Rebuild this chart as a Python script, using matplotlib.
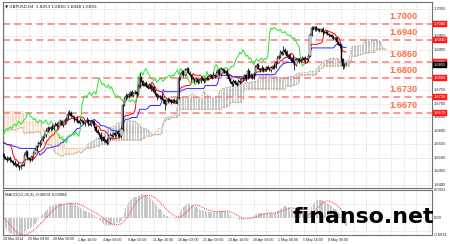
import numpy as np
import pandas as pd
import matplotlib
matplotlib.use("Agg")
import matplotlib.pyplot as plt
import matplotlib.transforms as mtransforms

# ---------------- data (prices in 1/10000, i.e. 6507 -> 1.6507) ----------------
# bars before the visible window (only feed the indicators)
pre_close = [
    6625, 6630, 6628, 6635, 6640, 6632, 6638, 6645, 6640, 6650,
    6655, 6660, 6652, 6785, 6660, 6650, 6645, 6640, 6635, 6630,
    6628, 6622, 6625, 6618, 6620, 6615, 6612, 6618, 6615, 6610,
    6612, 6608, 6615, 6610, 6605, 6600, 6608, 6612, 6700, 6710,
    6605, 6598, 6600, 6595, 6590, 6585, 6580, 6578, 6575, 6572,
    6570, 6568, 6565, 6570, 6578, 6585, 6590, 6595, 6592, 6598,
    6600, 6605, 6602, 6598, 6605, 6610, 6615, 6610, 6608, 6612,
    6610, 6605, 6610, 6618, 6612, 6598, 6555, 6518,
]
# visible H4 closes
close_pips = [
    6507, 6502, 6498, 6505, 6495, 6490, 6486, 6478, 6482, 6474,
    6470, 6476, 6480, 6515, 6528, 6505, 6500, 6497, 6510, 6522,
    6535, 6548, 6560, 6555, 6572, 6580, 6590, 6605, 6615, 6610,
    6620, 6612, 6625, 6630, 6622, 6635, 6640, 6628, 6636, 6645,
    6650, 6668, 6672, 6660, 6655, 6645, 6650, 6640, 6635, 6645,
    6640, 6632, 6638, 6645, 6630, 6628, 6640, 6635, 6620, 6605,
    6598, 6590, 6575, 6580, 6568, 6572, 6560, 6578, 6590, 6585,
    6595, 6588, 6600, 6592, 6585, 6610, 6700, 6725, 6735, 6728,
    6740, 6748, 6735, 6745, 6750, 6740, 6770, 6800, 6790, 6775,
    6780, 6770, 6765, 6775, 6760, 6768, 6750, 6740, 6728, 6735,
    6730, 6722, 6718, 6705, 6715, 6722, 6718, 6712, 6720, 6715,
    6710, 6725, 6800, 6815, 6822, 6810, 6828, 6835, 6820, 6812,
    6800, 6795, 6790, 6798, 6785, 6792, 6800, 6795, 6788, 6795,
    6800, 6806, 6810, 6802, 6812, 6808, 6820, 6830, 6815, 6835,
    6828, 6820, 6825, 6810, 6795, 6785, 6778, 6788, 6780, 6776,
    6790, 6785, 6795, 6800, 6810, 6798, 6825, 6805, 6812, 6802,
    6815, 6840, 6850, 6835, 6830, 6838, 6828, 6832, 6840, 6835,
    6830, 6838, 6845, 6842, 6860, 6875, 6880, 6895, 6890, 6905,
    6895, 6880, 6885, 6870, 6875, 6860, 6850, 6865, 6870, 6862,
    6868, 6875, 6865, 6872, 6870, 6880, 6960, 6985, 6980, 6988,
    6982, 6978, 6975, 6980, 6970, 6968, 6972, 6962, 6958, 6960,
    6952, 6945, 6950, 6935, 6925, 6918, 6870, 6845, 6850, 6855,
]
# wick lengths above / below the body, in units of 3 pips
wick_up = ("2131212312" "1213221213" "2123121321" "1312213212" "2332121312"
           "1213122131" "2131212121" "1212131232" "2131213621" "2312121312"
           "1212131212" "2121323222" "1312121312" "2121312132" "1213121312"
           "2121214121" "2322131213" "1213122325" "2312131212" "1213122331"
           "2121312121" "1212123121")
wick_dn = ("2131213121" "3212121312" "1213121312" "2121312132" "1212131212"
           "2131212321" "2132123121" "1213122121" "1212131212" "2121312131"
           "2138121312" "1212121312" "2131213121" "1212131212" "2131212312"
           "1212131212" "2121312121" "1213121212" "2121317212" "1213121212"
           "2121312121" "1213123421")

levels = [1.7000, 1.6940, 1.6860, 1.6800, 1.6730, 1.6670]
level_labels = ["1.7000", "1.6940", "1.6860", "1.6800", "1.6730", "1.6670"]
price_tick_values = [1.7055, 1.6955, 1.6905, 1.6755, 1.6705, 1.6655, 1.6605,
                     1.6555, 1.6505, 1.6455, 1.6405]
date_labels = ["20 Mar 2014", "25 Mar 08:00", "28 Mar 00:00", "1 Apr 16:00",
               "4 Apr 08:00", "9 Apr 00:00", "11 Apr 16:00", "16 Apr 08:00",
               "21 Apr 00:00", "23 Apr 16:00", "28 Apr 08:00", "1 May 00:00",
               "5 May 16:00", "8 May 08:00"]
date_bars = [0, 16, 32, 48, 64, 80, 96, 112, 128, 144, 160, 176, 192, 208]
bid_price = 1.6855
chart_title = "GBPUSD,H4  1.6853 1.6860 1.6848 1.6855"
macd_title = "MACD(12,26,9) -0.00031 0.00084"
macd_tick_values = [0.0052, 0.0, -0.0031]
macd_tick_labels = ["0.0052", "0.00", "-0.0031"]

# ---------------- build OHLC + indicators ----------------
pip = 0.0001
npre = len(pre_close)
c_vis = 1 + np.array(close_pips) * pip
c_pre = 1 + np.array(pre_close) * pip
o_vis = np.concatenate([[c_pre[-1]], c_vis[:-1]])
up = np.array([int(d) for d in wick_up]) * 3 * pip
dn = np.array([int(d) for d in wick_dn]) * 3 * pip
h_vis = np.maximum(o_vis, c_vis) + up
l_vis = np.minimum(o_vis, c_vis) - dn

C = pd.Series(np.concatenate([c_pre, c_vis]))
H = pd.Series(np.concatenate([c_pre, h_vis]))
L = pd.Series(np.concatenate([c_pre, l_vis]))
idx = np.arange(len(C)) - npre  # visible bar index

tenkan = (H.rolling(9, min_periods=1).max() + L.rolling(9, min_periods=1).min()) / 2
kijun = (H.rolling(26, min_periods=1).max() + L.rolling(26, min_periods=1).min()) / 2
span_a = (tenkan + kijun) / 2
span_b = (H.rolling(52, min_periods=1).max() + L.rolling(52, min_periods=1).min()) / 2

ema12 = C.ewm(span=12, adjust=False).mean()
ema26 = C.ewm(span=26, adjust=False).mean()
macd = ema12 - ema26
signal = macd.rolling(9, min_periods=1).mean()

# ---------------- figure ----------------
W, Hpx = 450, 244
fig = plt.figure(figsize=(W / 100, Hpx / 100), dpi=100, facecolor="white")

def fx(x):
    return x / W

def fy(y):
    return 1 - y / Hpx

left_px, right_px = 3, 432
ax = fig.add_axes([fx(left_px), fy(188), fx(right_px - left_px), fy(2) - fy(188)])
axm = fig.add_axes([fx(left_px), fy(235), fx(right_px - left_px), fy(190) - fy(235)])

bar_px = 1.5625
xmin = -0.5
xmax = xmin + (right_px - left_px) / bar_px
ymin, ymax = 1.6393, 1.70815
for a in (ax, axm):
    a.set_xlim(xmin, xmax)
    a.set_xticks([])
    a.set_yticks([])
    a.set_facecolor("white")
    for s in a.spines.values():
        s.set_color("#707070")
        s.set_linewidth(0.8)
ax.set_ylim(ymin, ymax)
axm.set_ylim(-0.0031, 0.0052)

grid_kw = dict(color="#c8c8c8", lw=0.5, ls=(0, (1, 1.5)), zorder=0)
for k in range(14):
    ax.axhline(1.7055 - k * 0.005, **grid_kw)
for xb in range(0, int(xmax) + 1, 8):
    ax.axvline(xb, **grid_kw)
    axm.axvline(xb, **grid_kw)
for v in [0.0052 - k * 0.0025 for k in range(4)]:
    axm.axhline(v, **grid_kw)

# ---- Ichimoku cloud ----
xs_cloud = idx + 26
A = span_a.values
B = span_b.values
vis = (xs_cloud >= -1) & (xs_cloud <= xmax)
xa, aa, bb = xs_cloud[vis], A[vis], B[vis]
bull = aa >= bb
ax.vlines(xa[bull], bb[bull], aa[bull], colors="#555555", lw=0.6,
          linestyles=(0, (0.5, 0.8)), zorder=1)
ax.vlines(xa[~bull], aa[~bull], bb[~bull], colors="#f0a060", lw=0.6,
          linestyles=(0, (0.5, 0.8)), zorder=1)
ax.plot(xa, aa, color="#8a8a8a", lw=0.6, ls=(0, (1, 1)), zorder=1)
ax.plot(xa, bb, color="#f0a060", lw=0.6, ls=(0, (1, 1)), zorder=1)

# ---- lines ----
vmask = idx >= -1
ax.plot(idx[vmask], tenkan.values[vmask], color="red", lw=0.7, zorder=3)
ax.plot(idx[vmask], kijun.values[vmask], color="#2a2aff", lw=0.7, zorder=3)
ch_x = idx - 26
cm = (ch_x >= -1)
ax.plot(ch_x[cm], C.values[cm], color="#33e633", lw=0.75, zorder=3)

# ---- candles ----
xv = np.arange(len(c_vis))
ax.vlines(xv, l_vis, h_vis, colors="black", lw=0.55, zorder=4)
body_lo = np.minimum(o_vis, c_vis)
body_h = np.maximum(np.abs(c_vis - o_vis), 0.00005)
bull_c = c_vis >= o_vis
ax.bar(xv[bull_c], body_h[bull_c], bottom=body_lo[bull_c], width=0.75,
       color="white", edgecolor="black", lw=0.35, zorder=5)
ax.bar(xv[~bull_c], body_h[~bull_c], bottom=body_lo[~bull_c], width=0.75,
       color="black", edgecolor="black", lw=0.35, zorder=5)

# ---- level lines + labels ----
trans_r = mtransforms.blended_transform_factory(ax.transAxes, ax.transData)
lab_x = (418 - left_px) / (right_px - left_px)
for lv, lab in zip(levels, level_labels):
    ax.axhline(lv, color="#ff7b7b", lw=1.1, dashes=(4.5, 2.8), zorder=2)
    ax.text(lab_x, lv + 0.0011, lab, transform=trans_r,
            fontsize=6.6, fontweight="bold", color="#ff7040",
            family="Liberation Sans", ha="right", va="bottom", zorder=6)

# ---- right price axis labels ----
small = dict(fontsize=3.0, family="Liberation Sans")
for v in price_tick_values:
    ax.text(1.005, v, "%.4f" % v, transform=trans_r, color="#202020",
            va="center", ha="left", clip_on=False, **small)
for lv, lab in zip(levels, level_labels):
    ax.text(1.005, lv, lab, transform=trans_r, color="white",
            va="center", ha="left", clip_on=False, zorder=8,
            bbox=dict(boxstyle="square,pad=0.2", fc="#ff1a1a", ec="#ff1a1a", lw=0.3),
            **small)
ax.text(1.005, bid_price - 0.0007, "%.4f" % bid_price, transform=trans_r,
        color="white", va="center", ha="left", clip_on=False, zorder=9,
        bbox=dict(boxstyle="square,pad=0.2", fc="black", ec="black", lw=0.3),
        **small)

# ---- MACD ----
macd_v = macd.values[vmask]
sig_v = signal.values[vmask]
xm = idx[vmask]
axm.bar(xm, macd_v, width=0.7, color="#c8c8c8", zorder=2)
axm.plot(xm, sig_v, color="#ff3030", lw=0.7, ls=(0, (1, 1)), zorder=3)
trans_m = mtransforms.blended_transform_factory(axm.transAxes, axm.transData)
for v, lab in zip(macd_tick_values, macd_tick_labels):
    axm.text(1.005, v, lab, transform=trans_m, color="#202020",
             va="center", ha="left", clip_on=False, **small)
axm.text(0.004, 0.93, macd_title, transform=axm.transAxes,
         color="#202020", va="top", ha="left", **small)

# ---- titles / dates ----
ax.text(0.004, 0.985, "\u25bc " + chart_title, transform=ax.transAxes,
        color="#202020", va="top", ha="left", zorder=7, fontsize=3.0)
trans_d = mtransforms.blended_transform_factory(axm.transData, fig.transFigure)
for b, lab in zip(date_bars, date_labels):
    axm.text(b - 0.5, fy(239.5), lab, transform=trans_d, fontsize=2.6,
             family="Liberation Sans", color="#202020", va="center",
             ha="left", clip_on=False)

# ---- watermark ----
fig.text(fx(293), fy(223), "finanso.net", fontsize=15.8, fontweight="bold",
         family="DejaVu Sans", color="black", ha="left", va="baseline", zorder=20)

fig.savefig("out.png", dpi=100, facecolor="white")
